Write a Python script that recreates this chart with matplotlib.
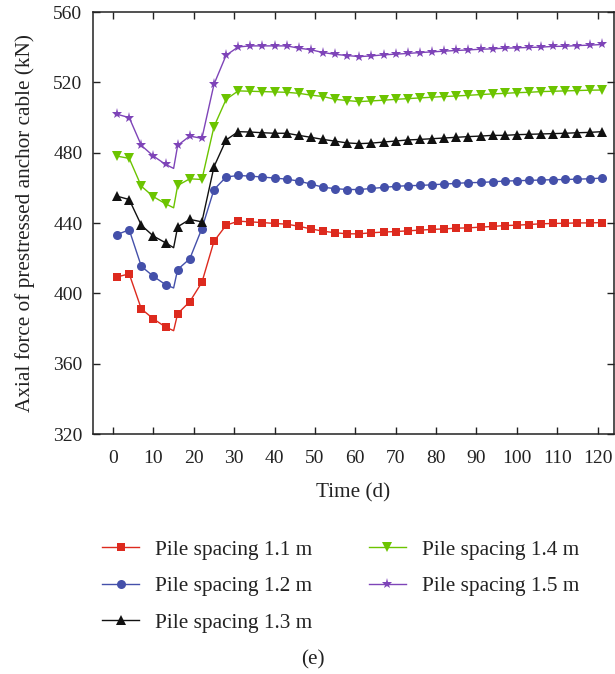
import matplotlib
matplotlib.use("Agg")
import matplotlib.pyplot as plt

plt.rcParams['font.family'] = ['Liberation Serif', 'DejaVu Serif']

# Sampling days (day 15 carries the local minimum of each curve; markers are every 3 days)
days = [1, 4, 7, 10, 13, 15, 16, 19, 22, 25, 28, 31, 34, 37, 40, 43, 46, 49, 52, 55, 58,
        61, 64, 67, 70, 73, 76, 79, 82, 85, 88, 91, 94, 97, 100, 103, 106, 109, 112,
        115, 118, 121]
marker_idx = [i for i, d in enumerate(days) if d != 15]

force_11 = [409.4, 411.1, 391.2, 385.5, 380.9, 378.8, 388.5, 395.3, 406.3, 429.7, 438.8,
            441.1, 440.7, 440.3, 439.8, 439.4, 438.2, 436.7, 435.4, 434.5, 433.9,
            433.9, 434.5, 434.9, 435.2, 435.6, 436.0, 436.4, 436.7, 437.1, 437.3, 437.7,
            438.1, 438.6, 438.8, 439.2, 439.6, 439.8, 439.9, 440.1, 440.1, 440.3]
force_12 = [433.5, 436.2, 415.4, 409.7, 405.0, 403.1, 413.6, 419.7, 436.9, 459.1, 466.2,
            467.1, 466.7, 466.2, 465.6, 465.0, 463.9, 462.2, 460.4, 459.6, 459.1,
            459.1, 459.7, 460.3, 460.9, 461.3, 461.4, 461.8, 462.2, 462.6, 463.0, 463.1,
            463.5, 463.9, 464.1, 464.3, 464.5, 464.7, 464.8, 465.0, 465.2, 465.6]
force_13 = [455.3, 453.4, 438.8, 432.6, 428.8, 426.0, 437.9, 442.1, 440.7, 472.1, 487.3,
            492.0, 491.8, 491.4, 491.1, 491.1, 489.9, 488.8, 487.6, 486.6, 485.6,
            485.2, 485.5, 486.1, 486.7, 487.3, 487.6, 488.0, 488.4, 488.8, 489.2, 489.5,
            489.9, 489.9, 490.3, 490.5, 490.7, 490.9, 491.1, 491.4, 491.6, 492.0]
force_14 = [478.1, 476.8, 461.0, 455.0, 451.0, 448.7, 461.4, 465.2, 464.8, 494.9, 510.4,
            515.2, 515.0, 514.8, 514.6, 514.4, 513.8, 512.8, 512.0, 510.4, 509.7,
            509.1, 509.5, 509.9, 510.4, 510.8, 511.2, 511.6, 512.0, 512.3, 512.7, 513.1,
            513.5, 513.8, 514.2, 514.4, 514.8, 515.0, 515.2, 515.4, 515.6, 515.7]
force_15 = [501.9, 500.0, 484.2, 478.1, 473.4, 471.1, 484.2, 489.5, 488.2, 519.0, 535.5,
            540.2, 540.8, 540.8, 540.8, 540.8, 539.5, 538.6, 537.0, 536.0, 535.3,
            534.7, 535.1, 535.7, 536.1, 536.5, 537.0, 537.4, 537.8, 538.2, 538.5, 538.9,
            539.1, 539.5, 539.7, 539.9, 540.1, 540.5, 540.6, 541.0, 541.2, 541.6]

labels = ['Pile spacing 1.1 m', 'Pile spacing 1.2 m', 'Pile spacing 1.3 m',
          'Pile spacing 1.4 m', 'Pile spacing 1.5 m']
series = [force_11, force_12, force_13, force_14, force_15]
colors = ['#dd2a1e', '#4450aa', '#111111', '#6cc400', '#7e44b8']
markers = ['s', 'o', '^', 'v', '*']
msizes = [6.0, 6.5, 7.0, 7.0, 8.0]

fig = plt.figure(figsize=(6.15, 6.74), dpi=100)
ax = fig.add_axes([0.151, 0.356, 0.847, 0.626])

handles = []
for y, c, m, ms, lab in zip(series, colors, markers, msizes, labels):
    h, = ax.plot(days, y, color=c, lw=1.0, marker=m, markersize=ms,
                 markevery=marker_idx, markeredgewidth=0, label=lab)
    handles.append(h)

ax.set_xlim(-5, 124)
ax.set_ylim(320, 560)
ax.set_xticks(range(0, 121, 10))
ax.set_yticks(range(320, 561, 40))
ax.tick_params(direction='in', length=5, width=1.0, top=True, right=True,
               labelsize=14, colors='#222222', labelcolor='#222222')
ax.tick_params(axis='x', pad=11.5)
ax.tick_params(axis='y', pad=7.5)
for s in ax.spines.values():
    s.set_linewidth(1.1)
    s.set_color('#222222')

ax.set_xlabel('Time (d)', fontsize=15.3, labelpad=12, color='#222222')
ax.set_ylabel('Axial force of prestressed anchor cable (kN)', fontsize=15.3,
              labelpad=13, color='#222222')

leg = fig.legend(handles=handles, loc='upper left', bbox_to_anchor=(0.166, 0.199),
                 ncol=2, frameon=False, fontsize=15.3, handlelength=1.75,
                 handletextpad=0.75, columnspacing=2.65, labelspacing=0.78,
                 borderaxespad=0, borderpad=0)
for t in leg.get_texts():
    t.set_color('#222222')

fig.text(0.509, 0.021, '(e)', ha='center', va='center', fontsize=15.3, color='#222222')

fig.savefig('out.png', dpi=100)
